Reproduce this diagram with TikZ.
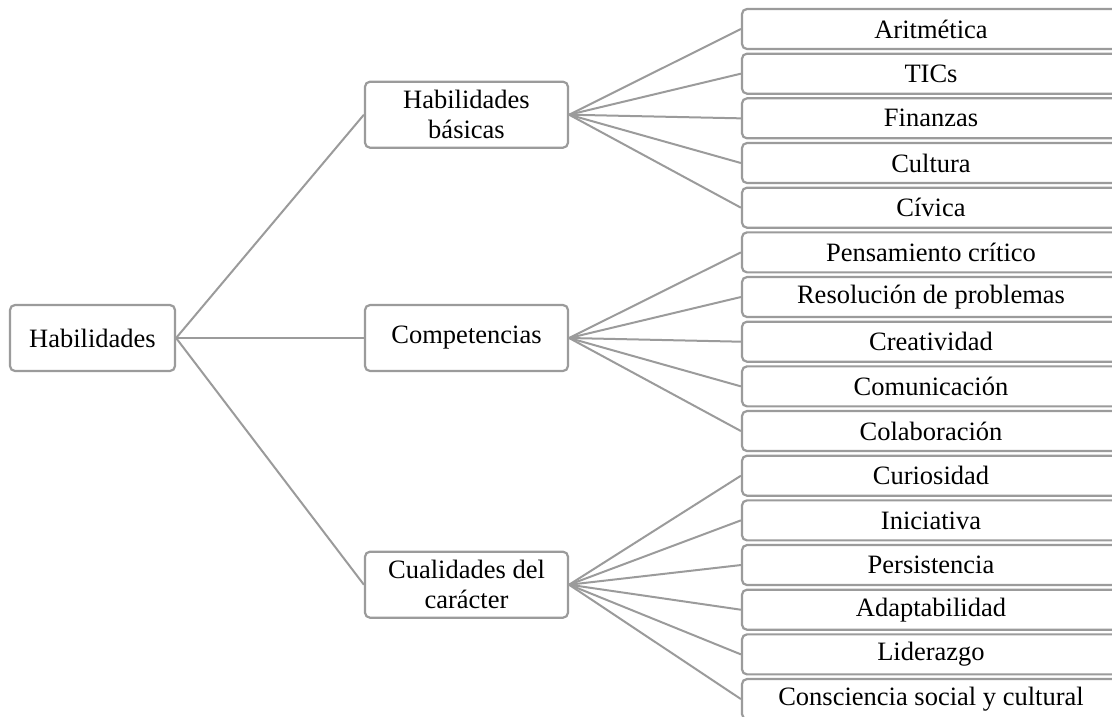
\documentclass[tikz,border=0pt]{standalone}
\usepackage{fontspec}
\setmainfont{Liberation Serif}
\definecolor{linegray}{RGB}{155,155,155}
\begin{document}
\begin{tikzpicture}[x=1pt,y=-1pt,
  box/.style={draw=linegray, line width=2.2pt, rounded corners=5pt, fill=white,
    inner sep=0pt, align=center, font=\fontsize{26.5}{30}\selectfont},
  rootbox/.style={box, minimum width=165pt, minimum height=66pt},
  midbox/.style={box, minimum width=203pt, minimum height=66pt},
  leafbox/.style={box, minimum width=378pt, minimum height=40pt},
  link/.style={draw=linegray, line width=2pt}]
\useasboundingbox (0,0) rectangle (1112,716);
\clip (0,0) rectangle (1112,716);
\node[rootbox] (root) at (92.5,338) {Habilidades};
\node[midbox] (m1) at (466.5,114.7) {Habilidades\\básicas};
\node[midbox] (m2) at (466.5,338) {Competencias};
\node[midbox] (m3) at (466.5,584.7) {Cualidades del\\carácter};
\foreach \t [count=\i from 0] in {Aritmética,TICs,Finanzas,Cultura,Cívica,Pensamiento crítico,Resolución de problemas,Creatividad,Comunicación,Colaboración,Curiosidad,Iniciativa,Persistencia,Adaptabilidad,Liderazgo,Consciencia social y cultural}{
  \node[leafbox] (l\i) at (931,29+\i*44.67) {\t};
}
\foreach \m in {m1,m2,m3}{\draw[link] (root.east) -- (\m.west);}
\foreach \i in {0,...,4}{\draw[link] (m1.east) -- (l\i.west);}
\foreach \i in {5,...,9}{\draw[link] (m2.east) -- (l\i.west);}
\foreach \i in {10,...,15}{\draw[link] (m3.east) -- (l\i.west);}
\end{tikzpicture}
\end{document}
